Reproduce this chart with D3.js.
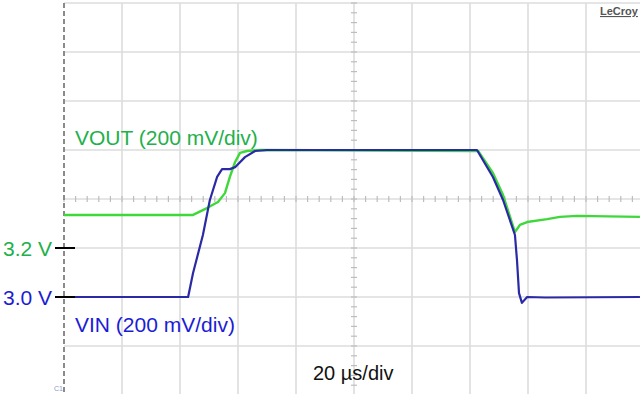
<!DOCTYPE html>
<html>
<head>
<meta charset="utf-8">
<script src="https://cdn.jsdelivr.net/npm/d3@7"></script>
<style>
  html, body { margin: 0; padding: 0; background: #fff; }
  svg { display: block; font-family: "Liberation Sans", Arial, Helvetica, sans-serif; }
</style>
</head>
<body>
<svg id="scope" width="640" height="394"></svg>
<script>
// Time base (µs) and vertical scale (V), 10 x 8 divisions
const timeDivs = d3.range(0, 201, 20);
const voltDivs = d3.range(2.6, 4.21, 0.2);

// VIN trace: time (µs) and voltage (V)
const vinTime = [0, 42.8, 44.5, 47.9, 50.3, 52.8, 54.5, 57.2, 59.0, 62.4, 65.9, 70.0,
                 142.4, 147.9, 151.4, 155.5, 156.2, 156.9, 157.9, 159.7, 166.0, 198.6];
const vinVolt = [3.0, 3.0, 3.098, 3.253, 3.396, 3.49, 3.522, 3.522, 3.53, 3.571, 3.596, 3.6,
                 3.6, 3.49, 3.396, 3.253, 3.151, 3.016, 2.976, 3.0, 2.998, 3.0];

// VOUT trace: time (µs) and voltage (V)
const voutTime = [0, 44.5, 49.3, 53.1, 55.5, 57.2, 59.0, 60.7, 63.1, 67.6,
                  142.8, 147.9, 151.4, 155.5, 157.2, 159.7, 166.6, 171.0, 176.9, 198.6];
const voutVolt = [3.335, 3.335, 3.363, 3.388, 3.424, 3.49, 3.551, 3.588, 3.596, 3.6,
                  3.596, 3.506, 3.416, 3.265, 3.294, 3.306, 3.318, 3.327, 3.331, 3.327];

// Reference level markers
const markerVolts = [3.2, 3.0];
const markerLabels = ["3.2 V", "3.0 V"];

const svg = d3.select("#scope");
const x = d3.scaleLinear().domain([0, 200]).range([64, 644]);
const y = d3.scaleLinear().domain([2.6, 4.2]).range([395, 3]);

const gridColor = "#dcdcdc";

// Graticule
const grid = svg.append("g");
grid.selectAll("line.v").data(timeDivs.slice(1)).join("line")
  .attr("x1", d => x(d)).attr("x2", d => x(d))
  .attr("y1", y(4.2)).attr("y2", y(2.6))
  .attr("stroke", gridColor).attr("stroke-width", 1.6);
grid.selectAll("line.h").data(voltDivs).join("line")
  .attr("x1", x(0)).attr("x2", x(200))
  .attr("y1", d => y(d)).attr("y2", d => y(d))
  .attr("stroke", gridColor).attr("stroke-width", 1.6);

// Minor ticks on the centre axes
const centreV = 3.4, centreT = 100;
const hTicks = d3.range(0, 200.01, 4);
grid.selectAll("line.ht").data(hTicks).join("line")
  .attr("x1", d => x(d)).attr("x2", d => x(d))
  .attr("y1", y(centreV) - 3).attr("y2", y(centreV) + 3)
  .attr("stroke", "#bdbdbd").attr("stroke-width", 1.2);
const vTicks = d3.range(2.6, 4.201, 0.04);
grid.selectAll("line.vt").data(vTicks).join("line")
  .attr("x1", x(centreT) - 3).attr("x2", x(centreT) + 3)
  .attr("y1", d => y(d)).attr("y2", d => y(d))
  .attr("stroke", "#bdbdbd").attr("stroke-width", 1.2);

// Left edge of the screen
svg.append("line")
  .attr("x1", x(0)).attr("x2", x(0)).attr("y1", y(4.2)).attr("y2", 394)
  .attr("stroke", "#8a8a8a").attr("stroke-width", 2)
  .attr("stroke-dasharray", "5,3");

// Traces
const line = d3.line().x(d => x(d[0])).y(d => y(d[1]));
const voutData = voutTime.map((t, i) => [t, voutVolt[i]]);
const vinData = vinTime.map((t, i) => [t, vinVolt[i]]);

svg.append("path").datum(voutData)
  .attr("d", line).attr("fill", "none")
  .attr("stroke", "#3fd83a").attr("stroke-width", 2.4)
  .attr("stroke-linejoin", "round");
svg.append("path").datum(vinData)
  .attr("d", line).attr("fill", "none")
  .attr("stroke", "#2a2aa6").attr("stroke-width", 2.2)
  .attr("stroke-linejoin", "round");

// Level markers
svg.selectAll("line.mk").data(markerVolts).join("line")
  .attr("x1", 55).attr("x2", 75)
  .attr("y1", d => y(d)).attr("y2", d => y(d))
  .attr("stroke", "#000").attr("stroke-width", 2);

const labelColors = ["#22b04a", "#1c1cd6"];
svg.selectAll("text.mk").data(markerVolts).join("text")
  .attr("x", 3).attr("y", d => y(d) + 8)
  .attr("font-size", 21)
  .attr("fill", (d, i) => labelColors[i])
  .text((d, i) => markerLabels[i]);

// Channel labels
svg.append("text").attr("x", 75).attr("y", 145)
  .attr("font-size", 21).attr("fill", "#22b04a")
  .text("VOUT (200 mV/div)");
svg.append("text").attr("x", 75).attr("y", 332)
  .attr("font-size", 21).attr("fill", "#1c1cd6")
  .text("VIN (200 mV/div)");

// Time base
svg.append("text").attr("x", 313).attr("y", 380)
  .attr("font-size", 20).attr("fill", "#111")
  .text("20 µs/div");

// Brand mark
svg.append("text").attr("x", 600).attr("y", 15)
  .attr("font-size", 11).attr("font-weight", "bold").attr("fill", "#555")
  .attr("text-decoration", "underline")
  .text("LeCroy");

// Channel tag
svg.append("text").attr("x", 54).attr("y", 391)
  .attr("font-size", 7).attr("fill", "#8a98c8")
  .text("C1");
</script>
</body>
</html>
